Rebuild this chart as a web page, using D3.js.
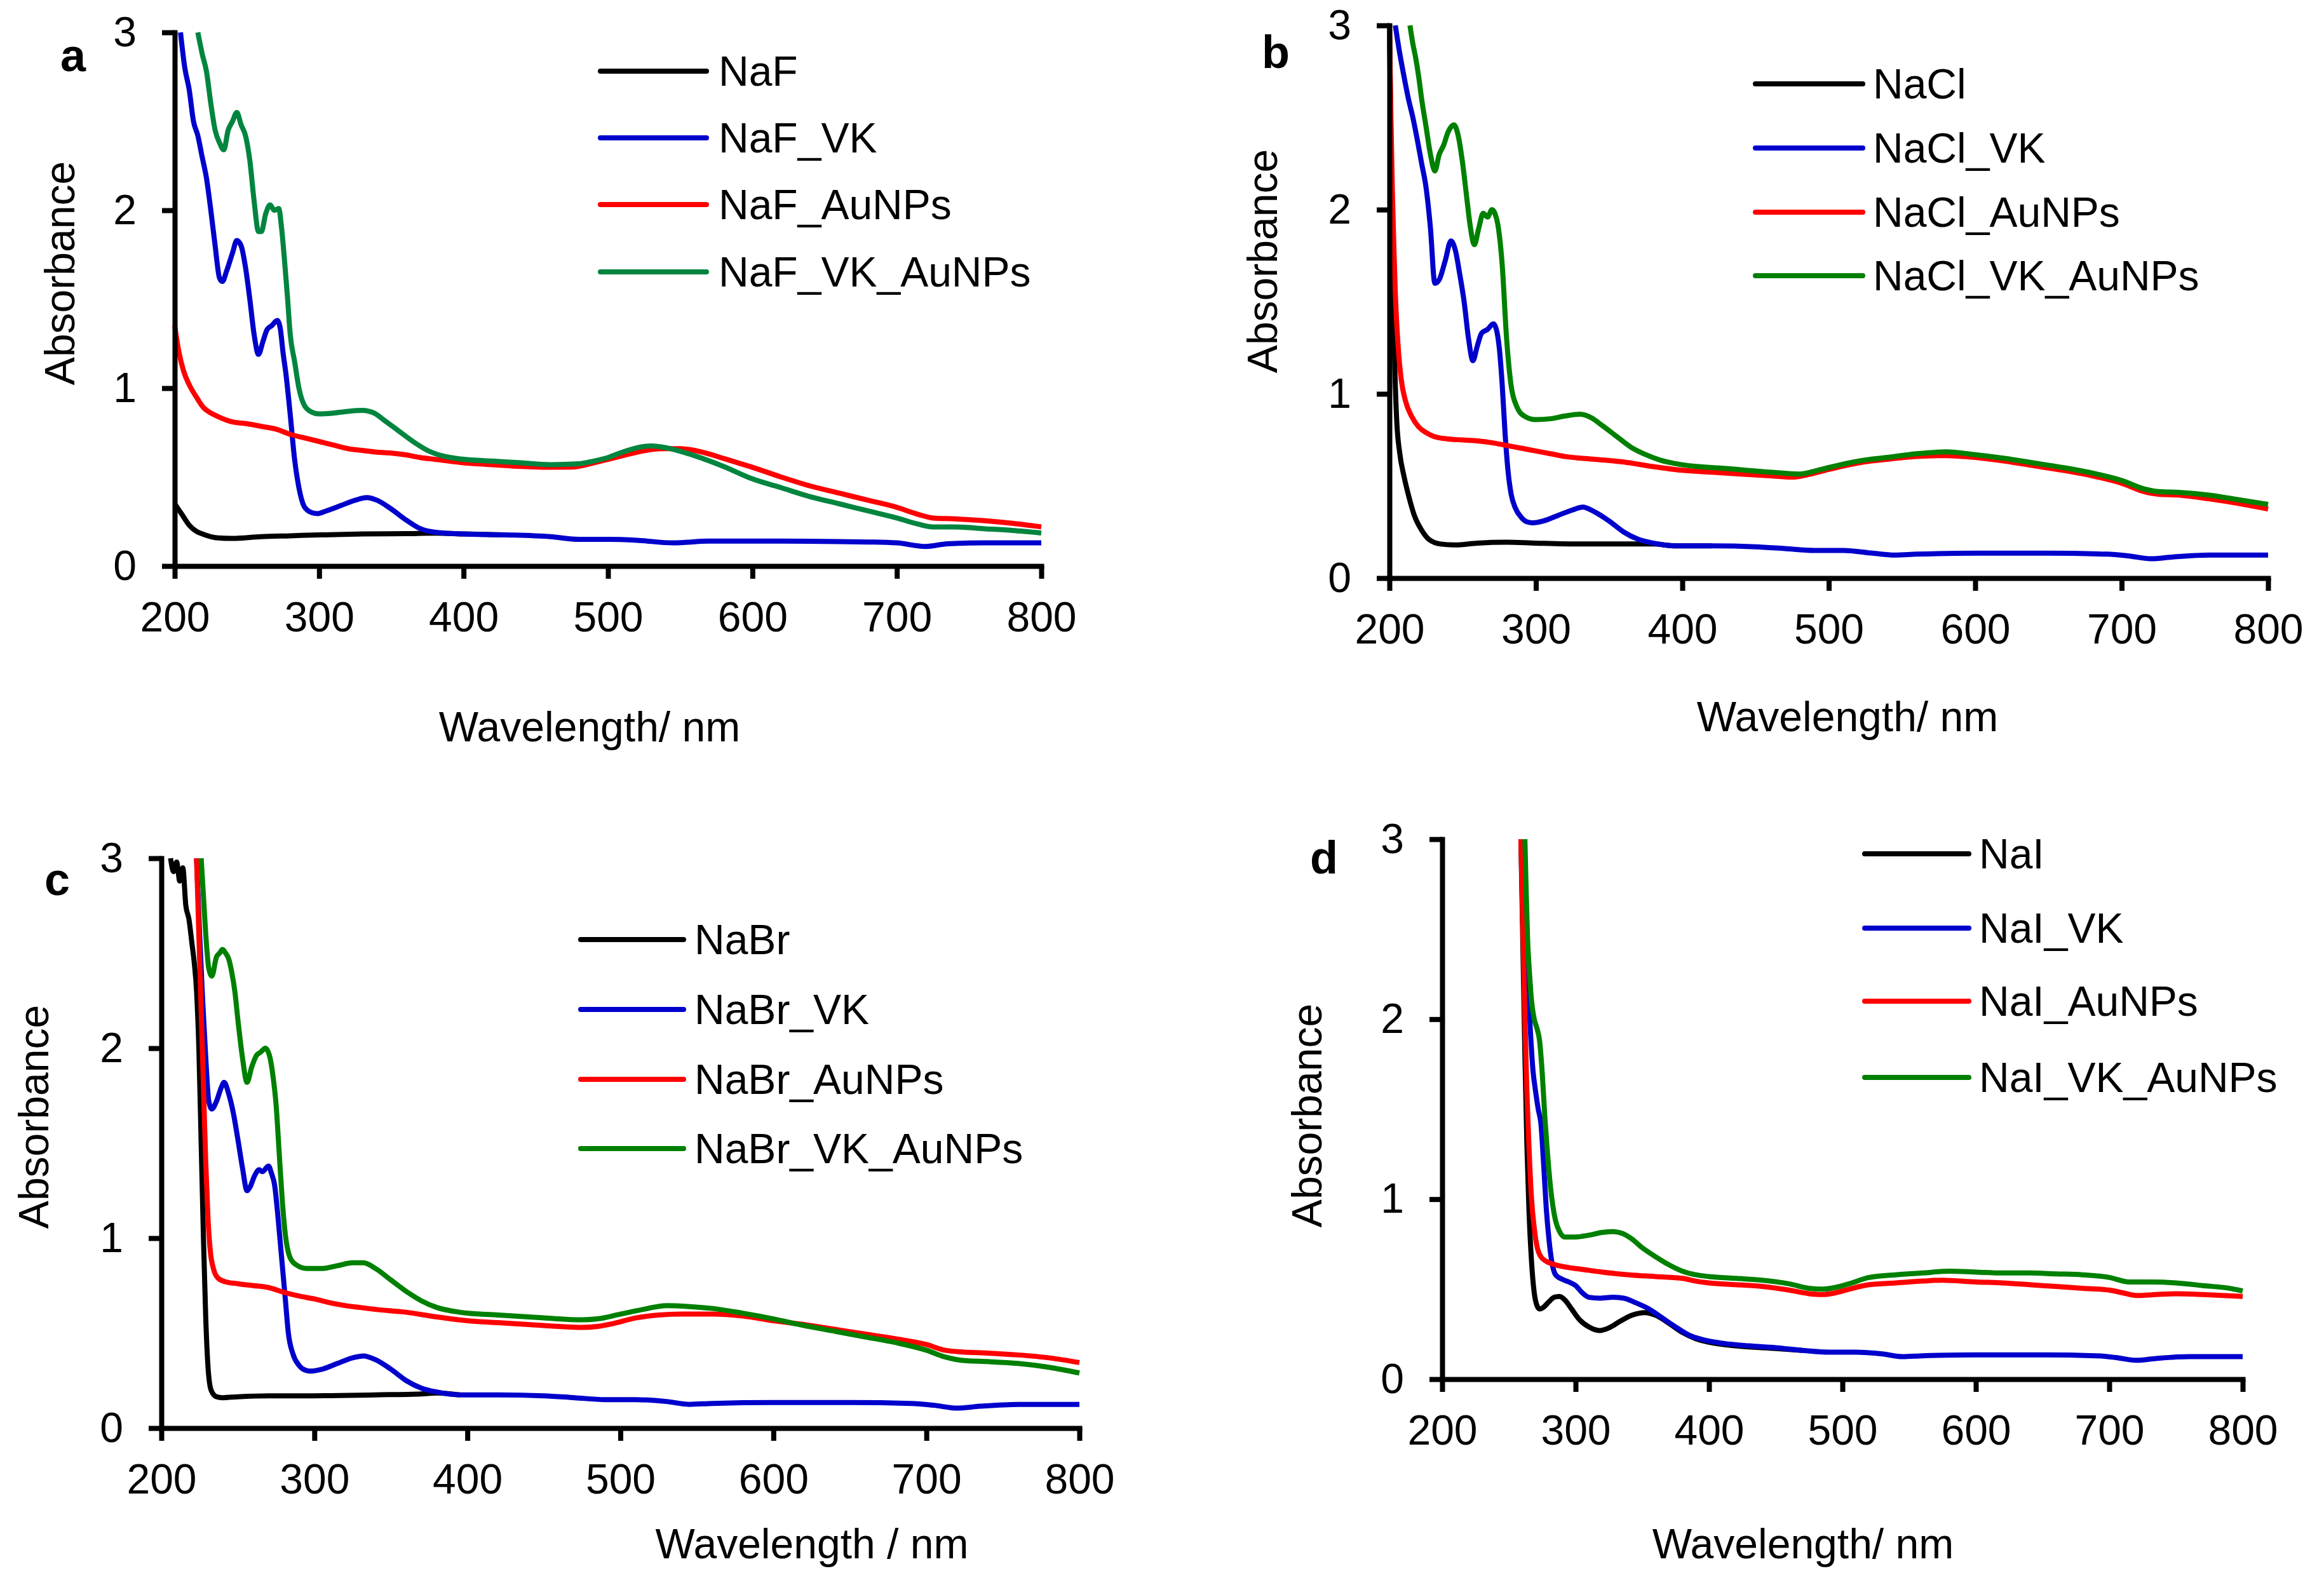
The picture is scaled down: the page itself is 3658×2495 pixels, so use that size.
<!DOCTYPE html>
<html>
<head>
<meta charset="utf-8">
<script src="https://cdn.jsdelivr.net/npm/d3@7"></script>
<style>
  body { margin: 0; background: #fff; }
  text { font-family: "Liberation Sans", Arial, sans-serif; fill: #000; }
</style>
</head>
<body>
<script>
//Width and height
var w = 3658;
var h = 2495;

//Tick labels
var xTicks = [200, 300, 400, 500, 600, 700, 800];
var yTicks = [0, 1, 2, 3];

//Legend names
var namesA = ["NaF", "NaF_VK", "NaF_AuNPs", "NaF_VK_AuNPs"];
var namesB = ["NaCl", "NaCl_VK", "NaCl_AuNPs", "NaCl_VK_AuNPs"];
var namesC = ["NaBr", "NaBr_VK", "NaBr_AuNPs", "NaBr_VK_AuNPs"];
var namesD = ["NaI", "NaI_VK", "NaI_AuNPs", "NaI_VK_AuNPs"];

//Spectra, [wavelength nm, absorbance]
//a
var naF = [[200,0.35],[205,0.29],[210,0.23],[215,0.195],[220,0.178],[230,0.158],[240,0.155],[260,0.165],[280,0.17],[300,0.175],[330,0.18],[360,0.182],[380,0.185],[400,0.18],[430,0.175]];
var naF_VK = [[204,3.0],[207,2.8],[210,2.68],[213,2.5],[216,2.42],[219,2.3],[222,2.18],[225,2.0],[228,1.8],[231,1.62],[233,1.6],[236,1.66],[240,1.76],[243,1.83],[246,1.8],[249,1.68],[252,1.5],[255,1.3],[258,1.19],[261,1.26],[264,1.33],[267,1.35],[271,1.38],[273,1.34],[275,1.2],[277,1.08],[280,0.85],[283,0.6],[286,0.44],[290,0.33],[295,0.3],[299,0.295],[305,0.31],[315,0.34],[325,0.37],[333,0.385],[340,0.37],[350,0.32],[360,0.26],[370,0.21],[380,0.19],[400,0.18],[430,0.175],[460,0.165],[480,0.15],[500,0.15],[520,0.145],[545,0.13],[570,0.14],[620,0.14],[680,0.135],[700,0.13],[720,0.11],[735,0.125],[760,0.13],[800,0.13]];
var naF_AuNPs = [[200,1.35],[203,1.2],[206,1.1],[210,1.02],[215,0.95],[220,0.89],[225,0.86],[230,0.84],[240,0.81],[250,0.8],[260,0.785],[270,0.77],[280,0.74],[290,0.72],[300,0.7],[310,0.68],[320,0.66],[330,0.65],[340,0.64],[350,0.635],[360,0.625],[370,0.61],[380,0.6],[390,0.59],[400,0.58],[420,0.57],[440,0.56],[460,0.555],[475,0.556],[490,0.58],[500,0.6],[510,0.62],[520,0.64],[530,0.655],[540,0.66],[550,0.66],[560,0.65],[570,0.63],[580,0.605],[590,0.58],[600,0.555],[620,0.5],[640,0.45],[660,0.41],[680,0.37],[700,0.33],[715,0.29],[725,0.27],[740,0.265],[760,0.255],[780,0.24],[800,0.22]];
var naF_VK_AuNPs = [[216,3.0],[219,2.88],[222,2.78],[225,2.6],[228,2.45],[231,2.38],[234,2.34],[237,2.45],[240,2.5],[243,2.55],[246,2.48],[249,2.42],[252,2.28],[255,2.05],[258,1.88],[260,1.88],[263,1.98],[266,2.03],[269,2.0],[272,2.01],[274,1.9],[276,1.72],[278,1.52],[280,1.3],[283,1.15],[286,1.0],[290,0.9],[295,0.865],[300,0.855],[310,0.86],[320,0.87],[330,0.875],[338,0.86],[345,0.82],[355,0.76],[365,0.7],[375,0.65],[385,0.62],[400,0.6],[420,0.59],[440,0.58],[460,0.57],[480,0.575],[490,0.59],[500,0.61],[510,0.64],[520,0.665],[530,0.675],[540,0.665],[550,0.645],[560,0.62],[580,0.56],[600,0.49],[620,0.44],[640,0.39],[660,0.35],[680,0.31],[700,0.27],[715,0.235],[725,0.22],[740,0.22],[760,0.21],[780,0.2],[800,0.186]];
//b
var naCl = [[200,3.0],[201,2.4],[202,1.8],[203,1.35],[204,1.05],[205,0.85],[207,0.68],[210,0.55],[213,0.45],[217,0.34],[222,0.26],[227,0.21],[235,0.185],[245,0.18],[260,0.19],[280,0.195],[300,0.19],[330,0.185],[360,0.185],[380,0.185],[395,0.175],[420,0.175]];
var naCl_VK = [[204,3.0],[207,2.85],[210,2.72],[213,2.6],[216,2.5],[219,2.38],[222,2.25],[225,2.12],[228,1.9],[231,1.6],[234,1.62],[238,1.72],[242,1.83],[245,1.78],[248,1.65],[251,1.5],[254,1.3],[257,1.18],[260,1.26],[263,1.33],[267,1.35],[271,1.38],[273,1.35],[275,1.25],[277,1.05],[279,0.78],[281,0.58],[283,0.46],[286,0.38],[290,0.33],[294,0.305],[298,0.3],[305,0.31],[315,0.34],[325,0.37],[332,0.385],[340,0.36],[350,0.31],[360,0.25],[370,0.21],[380,0.19],[395,0.175],[420,0.175],[450,0.17],[470,0.16],[490,0.15],[510,0.15],[530,0.135],[545,0.125],[560,0.13],[600,0.135],[650,0.135],[690,0.13],[705,0.12],[720,0.105],[735,0.115],[760,0.125],[800,0.125]];
var naCl_AuNPs = [[200,3.0],[201,2.5],[202,2.1],[203,1.8],[204,1.55],[206,1.25],[208,1.08],[211,0.96],[215,0.88],[220,0.82],[225,0.79],[230,0.77],[240,0.755],[250,0.75],[260,0.745],[270,0.735],[280,0.72],[290,0.705],[300,0.69],[310,0.675],[320,0.66],[340,0.645],[360,0.63],[380,0.605],[400,0.585],[420,0.575],[440,0.565],[460,0.555],[475,0.548],[485,0.56],[500,0.59],[520,0.625],[540,0.645],[560,0.66],[580,0.665],[600,0.655],[620,0.635],[640,0.61],[660,0.585],[680,0.555],[700,0.515],[715,0.47],[725,0.455],[740,0.45],[760,0.43],[780,0.405],[800,0.375]];
var naCl_VK_AuNPs = [[214,3.0],[216,2.9],[218,2.82],[220,2.72],[222,2.6],[225,2.45],[228,2.3],[231,2.21],[234,2.3],[237,2.35],[240,2.42],[244,2.46],[247,2.4],[250,2.25],[253,2.05],[255,1.92],[258,1.81],[261,1.9],[264,1.98],[267,1.96],[270,2.0],[272,1.98],[274,1.92],[277,1.7],[280,1.3],[283,1.05],[287,0.93],[292,0.88],[300,0.86],[310,0.865],[320,0.88],[330,0.89],[338,0.87],[345,0.83],[355,0.77],[365,0.71],[375,0.67],[385,0.64],[400,0.615],[430,0.595],[460,0.575],[480,0.565],[490,0.58],[500,0.6],[520,0.635],[540,0.655],[560,0.675],[580,0.685],[600,0.67],[620,0.65],[640,0.625],[660,0.6],[680,0.57],[700,0.53],[715,0.485],[725,0.47],[740,0.465],[760,0.45],[780,0.425],[800,0.4]];
//c
var naBr = [[206,3.0],[208,2.93],[210,2.98],[212,2.88],[214,2.95],[216,2.75],[218,2.68],[220,2.55],[221.5,2.45],[223,2.3],[224.5,2.0],[226,1.5],[227.5,1.0],[229,0.58],[230.5,0.32],[232.5,0.2],[236,0.165],[240,0.16],[250,0.165],[270,0.17],[300,0.17],[340,0.175],[370,0.18],[380,0.185],[395,0.175]];
var naBr_VK = [[223,3.0],[225,2.6],[227,2.25],[229,1.95],[231,1.72],[233,1.68],[236,1.72],[239,1.79],[241,1.82],[244,1.76],[247,1.66],[250,1.52],[253,1.37],[256,1.25],[258,1.27],[261,1.33],[264,1.36],[266,1.35],[270,1.38],[272,1.34],[274,1.28],[276,1.13],[278,0.95],[281,0.68],[283,0.5],[286,0.39],[290,0.33],[294,0.305],[297,0.3],[305,0.31],[315,0.34],[325,0.37],[332,0.38],[340,0.36],[350,0.31],[360,0.25],[370,0.21],[380,0.19],[395,0.175],[420,0.175],[450,0.17],[470,0.16],[490,0.15],[510,0.15],[530,0.14],[545,0.125],[560,0.13],[600,0.135],[650,0.135],[690,0.13],[705,0.12],[720,0.105],[735,0.115],[760,0.125],[800,0.125]];
var naBr_AuNPs = [[223,3.0],[224.5,2.6],[226,2.2],[227.5,1.8],[229,1.4],[230.5,1.1],[232,0.93],[234,0.84],[237,0.79],[242,0.77],[250,0.76],[260,0.75],[270,0.74],[280,0.715],[290,0.695],[300,0.68],[310,0.66],[320,0.645],[330,0.635],[340,0.625],[360,0.61],[380,0.585],[400,0.565],[420,0.555],[440,0.545],[460,0.535],[475,0.53],[485,0.535],[495,0.55],[510,0.58],[525,0.595],[540,0.6],[560,0.6],[580,0.59],[600,0.565],[620,0.545],[640,0.52],[660,0.495],[680,0.47],[700,0.44],[712,0.41],[725,0.4],[740,0.395],[760,0.385],[780,0.37],[800,0.345]];
var naBr_VK_AuNPs = [[226,3.0],[227.5,2.8],[229,2.6],[231,2.42],[233,2.38],[236,2.48],[238,2.5],[240,2.52],[242,2.5],[244,2.47],[246,2.4],[248,2.3],[250,2.15],[253,1.95],[256,1.82],[259,1.9],[262,1.96],[265,1.98],[268,2.0],[271,1.95],[273,1.85],[275,1.7],[277,1.45],[279,1.2],[281,1.02],[284,0.9],[288,0.86],[295,0.84],[305,0.84],[315,0.855],[325,0.87],[332,0.87],[340,0.84],[350,0.78],[360,0.72],[370,0.67],[380,0.635],[395,0.61],[420,0.595],[450,0.58],[475,0.57],[485,0.575],[500,0.6],[515,0.625],[530,0.645],[545,0.64],[560,0.63],[580,0.605],[600,0.575],[620,0.54],[640,0.51],[660,0.48],[680,0.45],[700,0.41],[712,0.375],[725,0.355],[740,0.35],[760,0.34],[780,0.32],[800,0.29]];
//d
var naI = [[259,3.0],[260.5,2.4],[262,1.8],[263.5,1.3],[265,0.95],[267,0.65],[269,0.48],[271,0.41],[273,0.39],[276,0.4],[280,0.43],[284,0.455],[288,0.46],[292,0.44],[297,0.39],[303,0.33],[310,0.29],[318,0.27],[325,0.285],[333,0.32],[342,0.355],[352,0.37],[360,0.355],[370,0.31],[380,0.26],[390,0.225],[400,0.205],[420,0.185],[450,0.17],[470,0.16]];
var naI_VK = [[260.5,3.0],[262,2.6],[264,2.25],[266,1.95],[268,1.72],[270,1.6],[272,1.5],[274,1.42],[276,1.2],[278,0.95],[280,0.78],[282,0.66],[285,0.58],[290,0.555],[295,0.54],[300,0.52],[305,0.48],[310,0.455],[318,0.45],[328,0.455],[336,0.45],[345,0.425],[355,0.39],[365,0.34],[375,0.29],[385,0.245],[395,0.22],[410,0.2],[430,0.185],[450,0.175],[470,0.16],[490,0.15],[510,0.15],[530,0.14],[545,0.125],[560,0.13],[600,0.135],[650,0.135],[690,0.13],[705,0.12],[720,0.105],[735,0.115],[760,0.125],[800,0.125]];
var naI_AuNPs = [[259,3.0],[260.5,2.5],[262,2.0],[263.5,1.6],[265,1.3],[267,1.0],[269,0.84],[271,0.74],[274,0.68],[278,0.655],[285,0.635],[295,0.62],[305,0.61],[320,0.595],[340,0.58],[360,0.57],[380,0.56],[390,0.545],[400,0.535],[420,0.525],[440,0.515],[460,0.495],[475,0.475],[485,0.47],[495,0.48],[505,0.5],[520,0.525],[540,0.535],[560,0.545],[575,0.55],[600,0.54],[620,0.535],[640,0.525],[660,0.515],[680,0.505],[700,0.495],[710,0.48],[720,0.465],[735,0.47],[750,0.475],[770,0.47],[800,0.46]];
var naI_VK_AuNPs = [[262,3.0],[263,2.7],[264,2.45],[265.5,2.25],[267,2.1],[269,2.0],[271,1.95],[273,1.88],[275,1.7],[277,1.45],[279,1.25],[281,1.08],[283,0.96],[285,0.88],[288,0.82],[292,0.79],[300,0.79],[310,0.8],[320,0.815],[328,0.82],[335,0.81],[342,0.78],[350,0.73],[360,0.68],[370,0.635],[380,0.6],[390,0.58],[400,0.57],[420,0.56],[440,0.55],[460,0.53],[475,0.505],[485,0.5],[495,0.51],[505,0.53],[520,0.565],[540,0.58],[560,0.59],[580,0.6],[600,0.595],[620,0.59],[640,0.59],[660,0.585],[680,0.58],[700,0.565],[715,0.54],[730,0.54],[750,0.535],[770,0.52],[790,0.505],[800,0.49]];

var fontSize = 66;

//layout of each panel
var panels = [
    {letter: "a", lx: 95, ly: 112, x0: 275, x1: 1639, yBase: 891, yTop: 51,
     series: [naF, naF_VK, naF_AuNPs, naF_VK_AuNPs], names: namesA,
     colors: ["#000000", "#0000cc", "#ff0000", "#00853f"],
     yTitle: [117, 430], xTitle: [928, 1167], xLabel: "Wavelength/ nm",
     leg: {x1: 945, x2: 1112, tx: 1131, ys: [112, 217, 322, 428]}},
    {letter: "b", lx: 1986, ly: 107, x0: 2187, x1: 3570, yBase: 910, yTop: 40,
     series: [naCl, naCl_VK, naCl_AuNPs, naCl_VK_AuNPs], names: namesB,
     colors: ["#000000", "#0000cc", "#ff0000", "#008000"],
     yTitle: [2010, 411], xTitle: [2908, 1151], xLabel: "Wavelength/ nm",
     leg: {x1: 2763, x2: 2932, tx: 2948, ys: [132, 233, 334, 434]}},
    {letter: "c", lx: 70, ly: 1409, x0: 254, x1: 1699, yBase: 2248, yTop: 1351,
     series: [naBr, naBr_VK, naBr_AuNPs, naBr_VK_AuNPs], names: namesC,
     colors: ["#000000", "#0000cc", "#ff0000", "#008000"],
     yTitle: [76, 1758], xTitle: [1278, 2453], xLabel: "Wavelength / nm",
     leg: {x1: 914, x2: 1076, tx: 1093, ys: [1479, 1589, 1699, 1808]}},
    {letter: "d", lx: 2062, ly: 1375, x0: 2270, x1: 3530, yBase: 2171, yTop: 1321,
     series: [naI, naI_VK, naI_AuNPs, naI_VK_AuNPs], names: namesD,
     colors: ["#000000", "#0000cc", "#ff0000", "#008000"],
     yTitle: [2080, 1756], xTitle: [2838, 2453], xLabel: "Wavelength/ nm",
     leg: {x1: 2935, x2: 3099, tx: 3115, ys: [1344, 1461, 1576, 1696]}}
];

//SVG Element
var svg = d3.select("body")
            .append("svg")
            .attr("width", w)
            .attr("height", h);

svg.append("rect").attr("width", w).attr("height", h).attr("fill", "#fff");

panels.forEach(function(p){
    var xScale = d3.scaleLinear().domain([200, 800]).range([p.x0, p.x1]);
    var yScale = d3.scaleLinear().domain([0, 3]).range([p.yBase, p.yTop]);

    var line = d3.line()
                .x(function(d) { return xScale(d[0]); })
                .y(function(d) { return yScale(d[1]); })
                .curve(d3.curveMonotoneX);

    var g = svg.append("g");

    //spectra
    p.series.forEach(function(s, i){
        g.append("path")
            .datum(s)
            .attr("fill", "none")
            .attr("stroke", p.colors[i])
            .attr("stroke-width", 8)
            .attr("stroke-linejoin", "round")
            .attr("d", line);
    });

    //axes
    var xAxis = g.append("g")
        .attr("transform", "translate(0," + p.yBase + ")")
        .call(d3.axisBottom(xScale).tickValues(xTicks).tickSize(20).tickSizeOuter(0).tickPadding(36));
    var yAxis = g.append("g")
        .attr("transform", "translate(" + p.x0 + ",0)")
        .call(d3.axisLeft(yScale).tickValues(yTicks).tickFormat(d3.format("d")).tickSize(20).tickSizeOuter(0).tickPadding(40));

    [xAxis, yAxis].forEach(function(ax){
        ax.select(".domain").attr("stroke", "#000").attr("stroke-width", 8).attr("stroke-linecap", "square");
        ax.selectAll(".tick line").attr("stroke", "#000").attr("stroke-width", 8);
        ax.selectAll(".tick text")
            .attr("font-size", fontSize)
            .attr("font-family", "'Liberation Sans', Arial, sans-serif")
            .attr("fill", "#000");
    });

    //panel letter
    g.append("text")
        .attr("x", p.lx).attr("y", p.ly)
        .attr("font-size", 72)
        .attr("font-weight", "bold")
        .text(p.letter);

    //axis titles
    g.append("text")
        .attr("transform", "translate(" + p.yTitle[0] + "," + p.yTitle[1] + ") rotate(-90)")
        .attr("text-anchor", "middle")
        .attr("font-size", fontSize)
        .text("Absorbance");

    g.append("text")
        .attr("x", p.xTitle[0]).attr("y", p.xTitle[1])
        .attr("text-anchor", "middle")
        .attr("font-size", fontSize)
        .text(p.xLabel);

    //legend
    var leg = g.selectAll(".leg")
        .data(p.names)
        .enter().append("g")
        .attr("transform", function(d, i){ return "translate(0," + p.leg.ys[i] + ")"; });

    leg.append("line")
        .attr("x1", p.leg.x1).attr("x2", p.leg.x2)
        .attr("stroke", function(d, i){ return p.colors[i]; })
        .attr("stroke-width", 8)
        .attr("stroke-linecap", "round");

    leg.append("text")
        .attr("x", p.leg.tx)
        .attr("y", 23)
        .attr("font-size", fontSize)
        .text(function(d){ return d; });
});
</script>
</body>
</html>
